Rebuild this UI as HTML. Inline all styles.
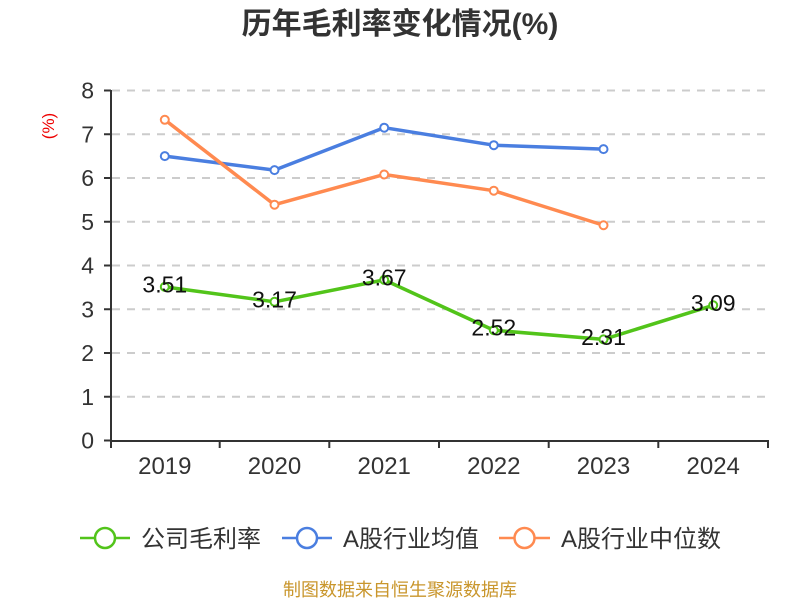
<!DOCTYPE html>
<html>
<head>
<meta charset="utf-8">
<style>
html,body{margin:0;padding:0;background:#fff;}
svg{display:block;}
text{font-family:"Liberation Sans","Noto Sans CJK SC",sans-serif;}
</style>
</head>
<body>
<svg width="800" height="600" viewBox="0 0 800 600" xmlns="http://www.w3.org/2000/svg">
<rect width="800" height="600" fill="#fff"/>
<!-- title -->
<text x="400" y="34" text-anchor="middle" font-size="30" font-weight="bold" fill="#333">历年毛利率变化情况(%)</text>
<!-- y-axis unit -->
<text x="0" y="0" transform="translate(54,126) rotate(-90)" text-anchor="middle" font-size="17" fill="#e00">(%)</text>
<!-- grid lines -->
<g stroke="#cccccc" stroke-width="2" stroke-dasharray="8,7">
<line x1="112" y1="396.75" x2="768" y2="396.75"/>
<line x1="112" y1="353" x2="768" y2="353"/>
<line x1="112" y1="309.25" x2="768" y2="309.25"/>
<line x1="112" y1="265.5" x2="768" y2="265.5"/>
<line x1="112" y1="221.75" x2="768" y2="221.75"/>
<line x1="112" y1="178" x2="768" y2="178"/>
<line x1="112" y1="134.25" x2="768" y2="134.25"/>
<line x1="112" y1="90.5" x2="768" y2="90.5"/>
</g>
<!-- axes -->
<g stroke="#333" stroke-width="2">
<line x1="111" y1="90" x2="111" y2="441"/>
<line x1="110" y1="441" x2="769" y2="441"/>
<line x1="104" y1="440.5" x2="111" y2="440.5"/>
<line x1="104" y1="396.75" x2="111" y2="396.75"/>
<line x1="104" y1="353" x2="111" y2="353"/>
<line x1="104" y1="309.25" x2="111" y2="309.25"/>
<line x1="104" y1="265.5" x2="111" y2="265.5"/>
<line x1="104" y1="221.75" x2="111" y2="221.75"/>
<line x1="104" y1="178" x2="111" y2="178"/>
<line x1="104" y1="134.25" x2="111" y2="134.25"/>
<line x1="104" y1="90.5" x2="111" y2="90.5"/>
<line x1="111" y1="441" x2="111" y2="448"/>
<line x1="219.7" y1="441" x2="219.7" y2="448"/>
<line x1="329.3" y1="441" x2="329.3" y2="448"/>
<line x1="439" y1="441" x2="439" y2="448"/>
<line x1="548.7" y1="441" x2="548.7" y2="448"/>
<line x1="658.3" y1="441" x2="658.3" y2="448"/>
<line x1="768" y1="441" x2="768" y2="448"/>
</g>
<!-- y tick labels -->
<g font-size="23" fill="#333" text-anchor="end">
<text x="94" y="448.5">0</text>
<text x="94" y="404.75">1</text>
<text x="94" y="361">2</text>
<text x="94" y="317.25">3</text>
<text x="94" y="273.5">4</text>
<text x="94" y="229.75">5</text>
<text x="94" y="186">6</text>
<text x="94" y="142.25">7</text>
<text x="94" y="98.5">8</text>
</g>
<!-- x labels -->
<g font-size="24" fill="#333" text-anchor="middle">
<text x="164.8" y="474">2019</text>
<text x="274.5" y="474">2020</text>
<text x="384.2" y="474">2021</text>
<text x="493.8" y="474">2022</text>
<text x="603.5" y="474">2023</text>
<text x="713.2" y="474">2024</text>
</g>
<!-- series lines -->
<polyline fill="none" stroke="#4a7ee0" stroke-width="3.5" stroke-linejoin="round" points="164.8,156.1 274.5,170.1 384.2,127.7 493.8,145.2 603.5,149.1"/>
<polyline fill="none" stroke="#ff8a50" stroke-width="3.5" stroke-linejoin="round" points="164.8,119.8 274.5,204.7 384.2,174.5 493.8,190.7 603.5,225.25"/>
<polyline fill="none" stroke="#52c41a" stroke-width="3.5" stroke-linejoin="round" points="164.8,286.9 274.5,301.8 384.2,279.9 493.8,330.25 603.5,339.4 713.2,305.3"/>
<!-- markers -->
<g fill="#fff" stroke="#4a7ee0" stroke-width="2">
<circle cx="164.8" cy="156.1" r="4"/>
<circle cx="274.5" cy="170.1" r="4"/>
<circle cx="384.2" cy="127.7" r="4"/>
<circle cx="493.8" cy="145.2" r="4"/>
<circle cx="603.5" cy="149.1" r="4"/>
</g>
<g fill="#fff" stroke="#ff8a50" stroke-width="2">
<circle cx="164.8" cy="119.8" r="4"/>
<circle cx="274.5" cy="204.7" r="4"/>
<circle cx="384.2" cy="174.5" r="4"/>
<circle cx="493.8" cy="190.7" r="4"/>
<circle cx="603.5" cy="225.25" r="4"/>
</g>
<g fill="#fff" stroke="#52c41a" stroke-width="2">
<circle cx="164.8" cy="286.9" r="4"/>
<circle cx="274.5" cy="301.8" r="4"/>
<circle cx="384.2" cy="279.9" r="4"/>
<circle cx="493.8" cy="330.25" r="4"/>
<circle cx="603.5" cy="339.4" r="4"/>
<circle cx="713.2" cy="305.3" r="4"/>
</g>
<!-- data labels -->
<g font-size="23" fill="#111" text-anchor="middle">
<text x="164.8" y="292.5">3.51</text>
<text x="274.5" y="307.5">3.17</text>
<text x="384.2" y="285.5">3.67</text>
<text x="493.8" y="335.5">2.52</text>
<text x="603.5" y="345">2.31</text>
<text x="713.2" y="311">3.09</text>
</g>
<!-- legend -->
<g stroke-width="2.5" fill="#fff">
<line x1="80" y1="538" x2="130" y2="538" stroke="#52c41a"/>
<circle cx="105" cy="538" r="10" stroke="#52c41a"/>
<line x1="282" y1="538" x2="332" y2="538" stroke="#4a7ee0"/>
<circle cx="307" cy="538" r="10" stroke="#4a7ee0"/>
<line x1="499" y1="538" x2="550" y2="538" stroke="#ff8a50"/>
<circle cx="524.5" cy="538" r="10" stroke="#ff8a50"/>
</g>
<g font-size="24" fill="#333">
<text x="141" y="547">公司毛利率</text>
<text x="343" y="547">A股行业均值</text>
<text x="561" y="547">A股行业中位数</text>
</g>
<!-- footer -->
<text x="400" y="596" text-anchor="middle" font-size="18" fill="#c9962c">制图数据来自恒生聚源数据库</text>
</svg>
</body>
</html>
